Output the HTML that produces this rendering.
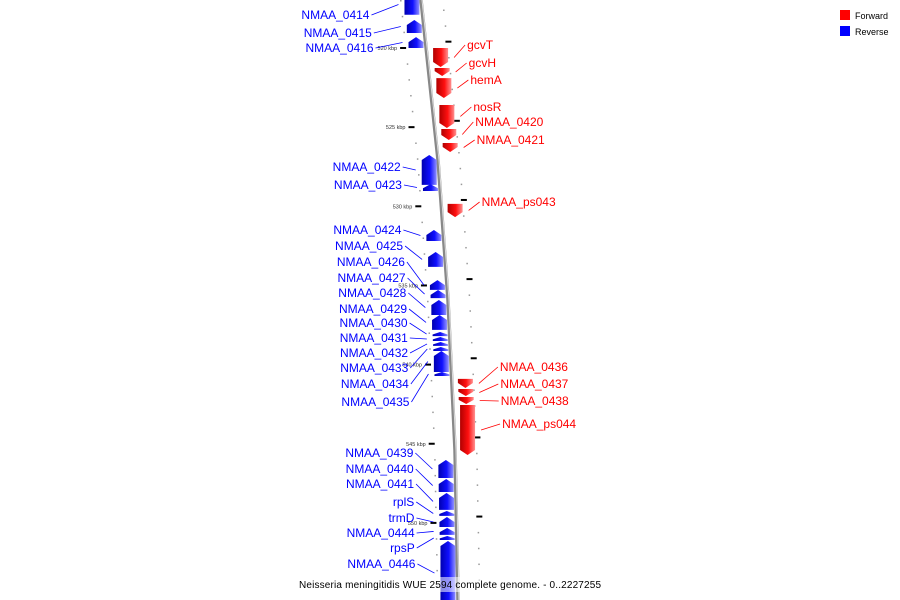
<!DOCTYPE html>
<html><head><meta charset="utf-8"><style>
html,body{margin:0;padding:0;background:#fff;}
svg{display:block;font-family:"Liberation Sans",sans-serif;}
</style></head><body>
<svg id="chart" width="900" height="600" viewBox="0 0 900 600" xmlns="http://www.w3.org/2000/svg">
<defs>
<linearGradient id="gB" x1="0" x2="1" y1="0" y2="0"><stop offset="0" stop-color="#0000b0"/><stop offset="0.55" stop-color="#1010ff"/><stop offset="1" stop-color="#9090ff"/></linearGradient>
<linearGradient id="gR" x1="0" x2="1" y1="0" y2="0"><stop offset="0" stop-color="#b00000"/><stop offset="0.55" stop-color="#ff1010"/><stop offset="1" stop-color="#ff9090"/></linearGradient>
</defs>
<rect x="0" y="0" width="900" height="600" fill="#fff"/>
<g id="ticks"></g>
<g id="axis"></g>
<g id="genes"></g>
<g id="labels"></g>
<rect x="298" y="577" width="304" height="15" fill="#ffffff" opacity="0.55"/>
<text x="450" y="588" text-anchor="middle" font-size="10" textLength="302" fill="#000">Neisseria meningitidis WUE 2594 complete genome. - 0..2227255</text>
<g>
<rect x="840" y="10" width="10" height="10" fill="#ff0000"/>
<text x="855" y="19" font-size="9" fill="#000">Forward</text>
<rect x="840" y="26" width="10" height="10" fill="#0000ff"/>
<text x="855" y="35" font-size="9" fill="#000">Reverse</text>
</g>
</svg>
<script>
const geneNames = ["NMAA_0414","NMAA_0415","NMAA_0416","gcvT","gcvH","hemA","nosR","NMAA_0420","NMAA_0421","NMAA_0422","NMAA_0423","NMAA_ps043","NMAA_0424","NMAA_0425","NMAA_0426","NMAA_0427","NMAA_0428","NMAA_0429","NMAA_0430","NMAA_0431","NMAA_0432","NMAA_0433","NMAA_0434","NMAA_0435","NMAA_0436","NMAA_0437","NMAA_0438","NMAA_ps044","NMAA_0439","NMAA_0440","NMAA_0441","rplS","trmD","NMAA_0444","rpsP","NMAA_0446"];
const geneStart = [516.6,518.23,519.31,520.0,521.26,521.9,523.6,525.12,526.0,526.76,528.6,529.85,531.5,532.89,534.66,535.29,535.92,536.87,537.94,538.26,538.57,538.89,539.14,540.47,540.9,541.54,542.05,542.55,546.03,547.23,548.11,549.25,549.63,550.32,550.83,551.14];
const geneEnd = [517.9,519.05,520.0,521.2,521.77,523.16,525.05,525.81,526.57,528.65,529.03,530.68,532.19,533.83,535.28,535.8,536.87,537.81,538.2,538.51,538.82,539.14,540.47,540.72,541.48,541.98,542.49,545.71,547.16,548.05,549.18,549.56,550.26,550.76,551.08,555.2];
const geneStrand = ["-","-","-","+","+","+","+","+","+","-","-","+","-","-","-","-","-","-","-","-","-","-","-","-","+","+","+","+","-","-","-","-","-","-","-","-"];
const labelRow = [19,37,52,49,67,84,111,126,144,171,189,206,234,250,266,282,297,313,327,342,357,372,388,406,371,388,405,428,457,473,488,506,522,537,552,568];
const majorTicks = [520,525,530,535,540,545,550];
const majorTickLabels = ["520 kbp","525 kbp","530 kbp","535 kbp","540 kbp","545 kbp","550 kbp"];

const NS="http://www.w3.org/2000/svg";
function yOf(kbp){return 48+(kbp-520)*15.83;}
const AX=[[0,421],[160,438],[300,448],[450,455],[600,458]];
function axisX(y){
  if(y<=AX[0][0])return AX[0][1]+(y-AX[0][0])*0.106;
  for(let i=1;i<AX.length;i++){if(y<=AX[i][0]){const a=AX[i-1],b=AX[i];return a[1]+(b[1]-a[1])*(y-a[0])/(b[0]-a[0]);}}
  return AX[AX.length-1][1];
}
function mk(tag,attrs,parent){const e=document.createElementNS(NS,tag);for(const k in attrs)e.setAttribute(k,attrs[k]);parent.appendChild(e);return e;}

// axis
const axG=document.getElementById('axis');
let pts=[];for(let y=-5;y<=605;y+=5)pts.push(axisX(y)+','+y);
const axl=mk('polyline',{points:pts.join(' '),fill:'none',stroke:'#888',"stroke-width":3.5},axG);


const axh=mk('polyline',{points:pts.map(p=>{const [x,y]=p.split(',');return (+x+1)+','+y;}).join(' '),fill:'none',stroke:'#ddd',"stroke-width":1},axG);



// ticks
const tG=document.getElementById('ticks');
for(let k=517;k<=555;k++){
  const y=yOf(k); if(y<0||y>600)continue;
  const ax=axisX(y);
  const maj=majorTicks.indexOf(k);
  if(maj>=0){
    const t=mk('rect',{x:ax-26,y:y-1,width:6,height:2,fill:'#000'},tG);
    
    
    const lb=mk('text',{x:ax-29,y:y+2,"font-size":5.5,"text-anchor":"end",fill:'#333'},tG);
    
    
    lb.textContent=majorTickLabels[maj];
  } else {
    const d=mk('rect',{x:ax-21,y:y-0.5,width:1.5,height:1.5,fill:'#999'},tG);
    
    
  }
  const y2=yOf(k-0.4); if(y2<0)continue;
  const ax2=axisX(y2);
  if(maj>=0){
    const t=mk('rect',{x:ax2+20,y:y2-1,width:6,height:2,fill:'#000'},tG);
    
    
  } else {
    const d=mk('rect',{x:ax2+21,y:y2-0.5,width:1.5,height:1.5,fill:'#999'},tG);
    
    
  }
}

// genes & labels
const gG=document.getElementById('genes'), lG=document.getElementById('labels');
for(let i=0;i<geneNames.length;i++){
  const y1=yOf(geneStart[i]), y2=yOf(geneEnd[i]);
  const ym=(y1+y2)/2, ax=axisX(ym), len=y2-y1;
  const fwd=geneStrand[i]==='+';
  const xl=fwd?ax+6:ax-17, xr=fwd?ax+21:ax-2, xm=(xl+xr)/2;
  const a=Math.min(5,len*0.6);
  let poly;
  if(fwd) poly=[[xl,y1],[xr,y1],[xr,y2-a],[xm,y2],[xl,y2-a]];
  else poly=[[xl,y2],[xl,y1+a],[xm,y1],[xr,y1+a],[xr,y2]];
  const g=mk('polygon',{points:poly.map(p=>p.join(',')).join(' '),fill:fwd?'url(#gR)':'url(#gB)'},gG);
  
  
  const col=fwd?'#ff0000':'#0000ff';
  const ly=labelRow[i];
  let lx, tx;
  if(fwd){ tx=ax+40+ (i>=24?8:0); lx=xr+6; }
  else { tx=ax-38-(i>=12?4:0)-(i<3?14:0); lx=xl-6; }
  const ln=mk('line',{x1:lx,y1:ym,x2:fwd?tx-2:tx+2,y2:ly-4,stroke:col,"stroke-width":0.8},lG);
  
  
  const t=mk('text',{x:tx,y:ly,"font-size":12,"text-anchor":fwd?'start':'end',fill:col},lG);
  
  
  t.textContent=geneNames[i];
}
</script>
</body></html>
